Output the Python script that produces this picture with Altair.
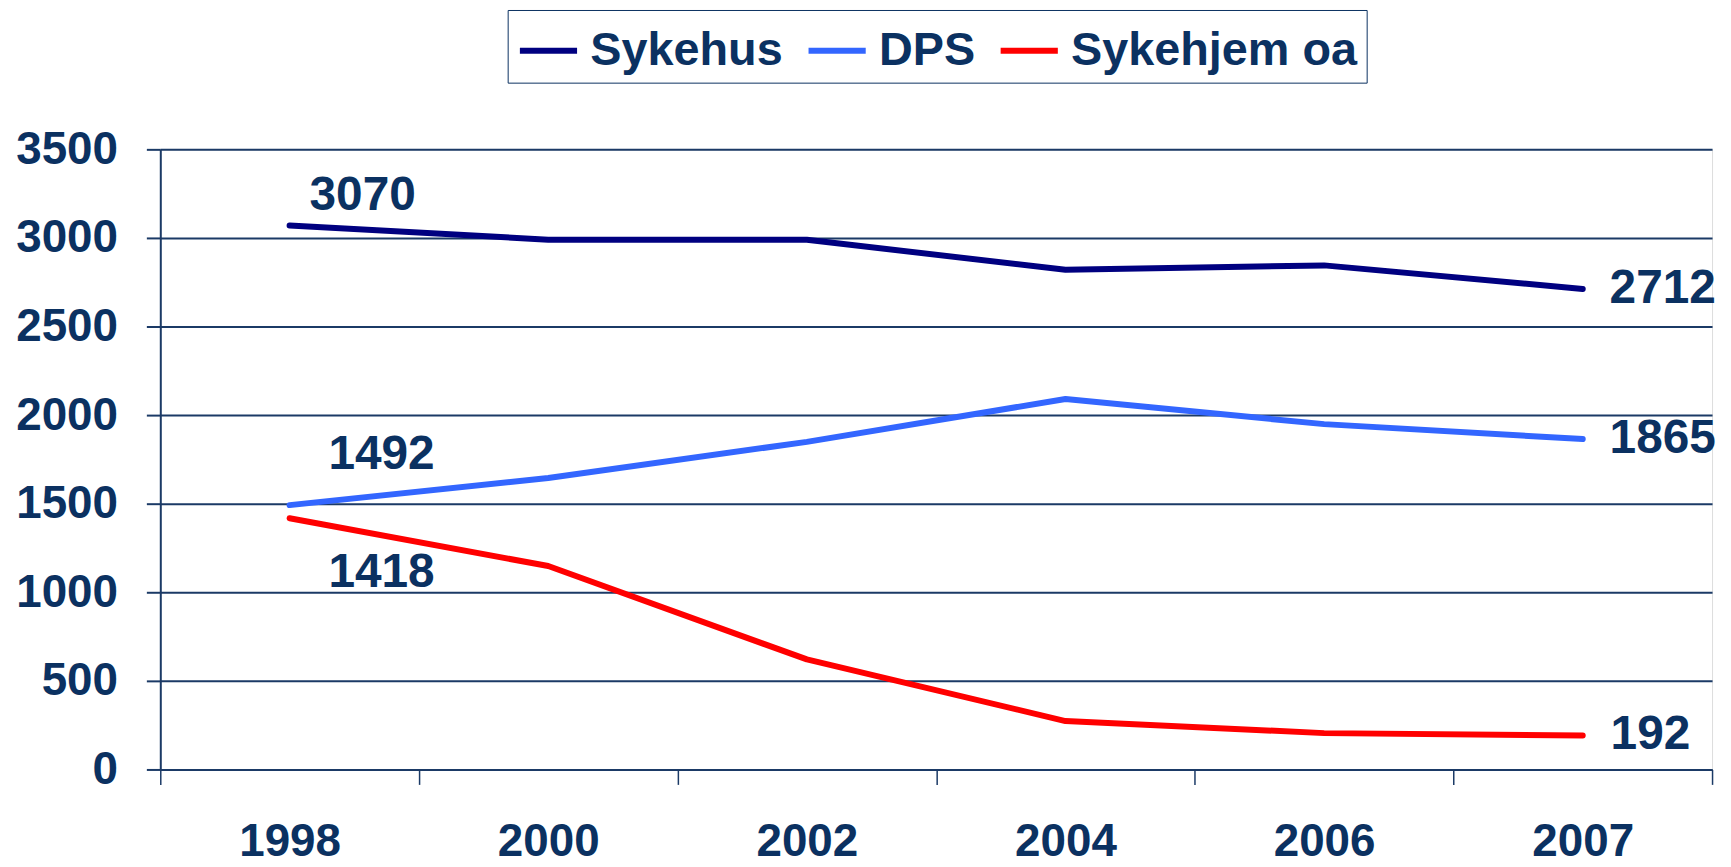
import altair as alt
import pandas as pd

years = ["1998", "2000", "2002", "2004", "2006", "2007"]
sykehus = [3070, 2990, 2990, 2820, 2845, 2712]
dps = [1492, 1645, 1849, 2091, 1949, 1865]
sykehjem = [1418, 1148, 621, 273, 205, 192]
series_names = ["Sykehus", "DPS", "Sykehjem oa"]
series_colors = ["#000080", "#3366FF", "#FF0000"]
y_ticks = [0, 500, 1000, 1500, 2000, 2500, 3000, 3500]

rows = []
for name, vals in zip(series_names, [sykehus, dps, sykehjem]):
    for yr, v in zip(years, vals):
        rows.append({"year": yr, "series": name, "value": v})
df = pd.DataFrame(rows)

W, H = 1559, 623
TXT = "#0B3161"
GRID = "#1B3A66"
FONT = "Liberation Sans"
FS = 46

x_enc = alt.X(
    "year:N",
    bandPosition=0.5,
    scale=alt.Scale(type="band", domain=years, paddingInner=0, paddingOuter=0),
    axis=alt.Axis(
        title=None, labelAngle=0, tickBand="extent", grid=False,
        domainColor=GRID, domainWidth=2, tickColor=GRID, tickWidth=1.5, tickSize=15,
        labelFont=FONT, labelFontSize=FS, labelFontWeight="bold", labelColor=TXT,
        labelPadding=35, labelBaseline="top",
    ),
)
y_enc = alt.Y(
    "value:Q",
    scale=alt.Scale(domain=[0, 3500], nice=False, zero=True),
    axis=alt.Axis(
        title=None, values=y_ticks, format="d", grid=True, gridColor=GRID, gridWidth=2,
        domainColor=GRID, domainWidth=2, tickColor=GRID, tickWidth=2, tickSize=14,
        labelFont=FONT, labelFontSize=FS, labelFontWeight="bold", labelColor=TXT,
        labelPadding=29,
    ),
)

base = alt.Chart(df)

lines = base.mark_line(strokeWidth=6, strokeCap="round", strokeJoin="round").encode(
    x=x_enc,
    y=y_enc,
    color=alt.Color(
        "series:N",
        scale=alt.Scale(domain=series_names, range=series_colors),
        legend=alt.Legend(
            title=None, orient="none", legendX=349, legendY=-140, direction="horizontal",
            strokeColor=TXT, padding=9, fillColor="white",
            symbolType="stroke", symbolSize=3300, symbolStrokeWidth=6,
            labelFont=FONT, labelFontSize=47, labelFontWeight="bold", labelColor=TXT,
            labelOffset=10, columnPadding=13, labelLimit=400,
        ),
    ),
    order=alt.Order("year:N"),
)


def label(series, year, dx, dy):
    return base.transform_filter(
        (alt.datum.series == series) & (alt.datum.year == year)
    ).mark_text(
        align="left", baseline="middle", dx=dx, dy=dy,
        font=FONT, fontSize=48, fontWeight="bold", color=TXT,
    ).encode(x=x_enc, y=y_enc, text=alt.Text("value:Q", format="d"))


labels = [
    label("Sykehus", "1998", 20, -30),
    label("DPS", "1998", 39, -50),
    label("Sykehjem oa", "1998", 39, 55),
    label("Sykehus", "2007", 27, 0),
    label("DPS", "2007", 27, 0),
    label("Sykehjem oa", "2007", 28, 0),
]

chart = alt.layer(lines, *labels).properties(
    width=W, height=H,
    autosize=alt.AutoSizeParams(type="none"),
    padding={"left": 153, "top": 140, "right": 11, "bottom": 96},
).configure_view(
    stroke="#8C8C8C", strokeWidth=2
).configure_legend(
    strokeWidth=2
).configure(background="white")

chart.save("out.html", embed_options={"renderer": "svg", "actions": False})
